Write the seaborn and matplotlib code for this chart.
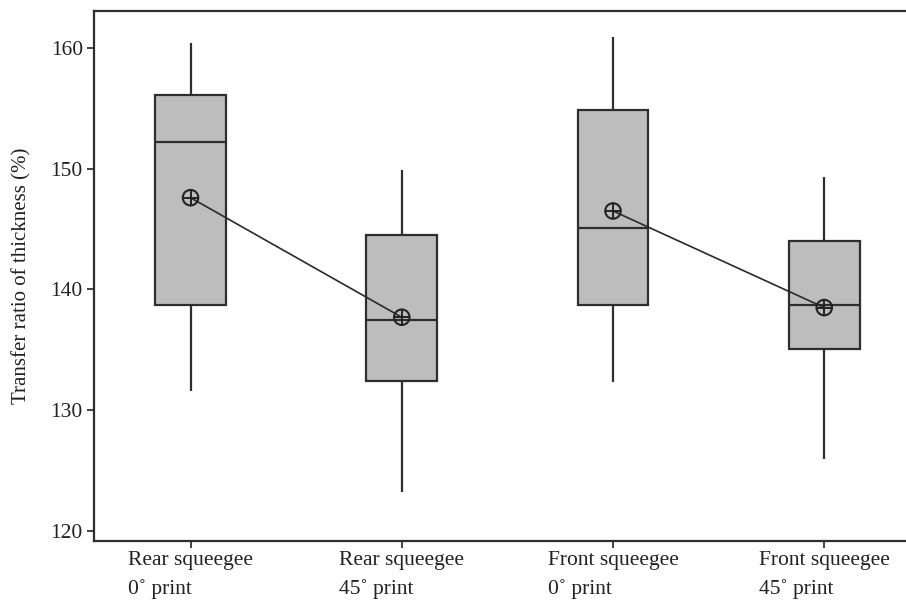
import numpy as np
import pandas as pd
import matplotlib
matplotlib.use("Agg")
import matplotlib.pyplot as plt
import seaborn as sns

categories = ["Rear squeegee\n0˚ print", "Rear squeegee\n45˚ print",
              "Front squeegee\n0˚ print", "Front squeegee\n45˚ print"]
groups = ["Rear", "Rear", "Front", "Front"]
whisker_low = [131.6, 123.2, 132.3, 126.0]
q1 = [138.7, 132.4, 138.7, 135.1]
median = [152.2, 137.5, 145.1, 138.7]
q3 = [156.1, 144.5, 154.9, 144.0]
whisker_high = [160.45, 149.9, 160.9, 149.3]
means = [147.6, 137.7, 146.5, 138.5]

sns.set_theme(style="ticks")
plt.rcParams['font.family'] = ['Liberation Serif', 'DejaVu Serif']

# five-number summaries as data (linear percentiles of 5 points reproduce them exactly)
rows = []
for c, lo, a, m, b, hi in zip(categories, whisker_low, q1, median, q3, whisker_high):
    for v in (lo, a, m, b, hi):
        rows.append({"cond": c, "value": v})
df = pd.DataFrame(rows)

mdf = pd.DataFrame({"pos": np.arange(len(categories)), "mean": means, "group": groups})

fig = plt.figure(figsize=(9.06, 6.03), dpi=100)
ax = fig.add_axes([94/906, 1 - 541/603, 1 - 94/906 + 0.01, (541 - 11)/603])

edge = "#2e2e2e"
sns.boxplot(data=df, x="cond", y="value", order=categories, whis=np.inf,
            width=0.335, color="#bdbdbd", saturation=1, linewidth=1.6,
            linecolor=edge, showcaps=False, ax=ax,
            boxprops=dict(facecolor="#bdbdbd", edgecolor=edge),
            medianprops=dict(color=edge, linewidth=1.6),
            whiskerprops=dict(color=edge, linewidth=1.6))

sns.lineplot(data=mdf, x="pos", y="mean", units="group", estimator=None,
             color="#2a2a2a", linewidth=1.2, ax=ax, legend=False)
sns.scatterplot(data=mdf, x="pos", y="mean", marker="o", s=125,
                facecolor="none", edgecolor="#222222", linewidth=1.5, ax=ax, zorder=5)
sns.scatterplot(data=mdf, x="pos", y="mean", marker="+", s=125,
                color="#222222", linewidth=1.4, ax=ax, zorder=6)

ax.set_xlim(-0.457, 3.43)
ax.set_ylim(119.17, 163.06)
ax.set_yticks([120, 130, 140, 150, 160])
ax.set_xticks(range(len(categories)))
ax.set_xticklabels(categories, multialignment="left", linespacing=1.6)
ax.tick_params(axis="both", labelsize=15.5, colors="#222222", length=5, width=1.2)
ax.tick_params(axis="x", pad=2)
ax.tick_params(axis="y", pad=3)
ax.set_xlabel("")
ax.set_ylabel("Transfer ratio of thickness (%)", fontsize=15, color="#222222", labelpad=14)
for s in ["left", "bottom", "top"]:
    ax.spines[s].set_color(edge)
    ax.spines[s].set_linewidth(1.6)
ax.spines["right"].set_visible(False)

fig.savefig("out.png", dpi=100)
